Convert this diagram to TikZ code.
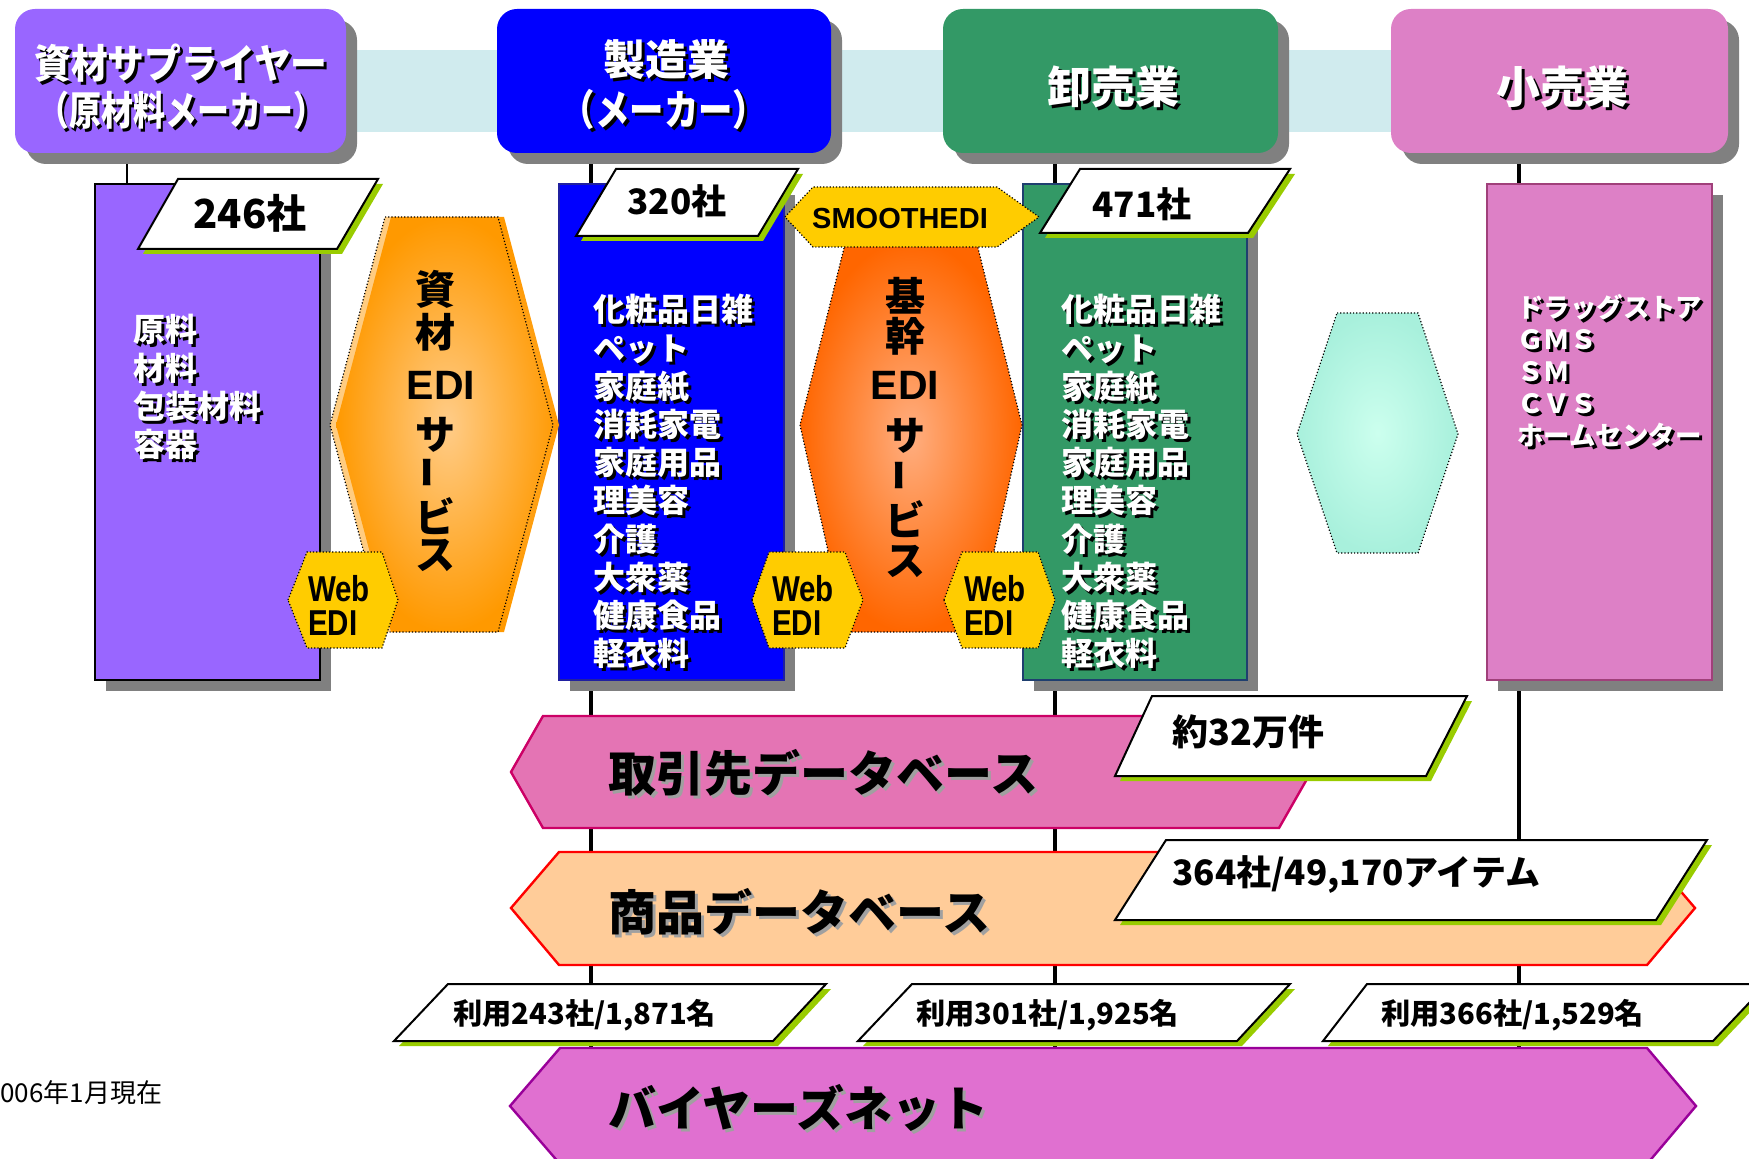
\documentclass[tikz,border=0pt]{standalone}
\usepackage{fontspec}
\setmainfont{Noto Sans CJK JP}
\newfontfamily\lat{Liberation Sans}
\usepackage{graphicx}
\usetikzlibrary{calc,fit,shadows}
\pgfdeclarelayer{bg}
\pgfsetlayers{bg,main}

\definecolor{cPurple}{HTML}{9966FF}
\definecolor{cBlue}{HTML}{0000FF}
\definecolor{cGreen}{HTML}{339966}
\definecolor{cPink}{HTML}{DD80C6}
\definecolor{cShadow}{HTML}{808080}
\definecolor{cBand}{HTML}{D0EBEE}
\definecolor{cTagShadow}{HTML}{99CC00}
\definecolor{cYellow}{HTML}{FFCC00}
\definecolor{cOrangeOut}{HTML}{FF9900}
\definecolor{cOrangeIn}{HTML}{FFCC88}
\definecolor{cOrangeLt}{HTML}{FFCC80}
\definecolor{cRedOut}{HTML}{FF6600}
\definecolor{cRedIn}{HTML}{FFAE80}
\definecolor{cCyanOut}{HTML}{A8F0DC}
\definecolor{cCyanIn}{HTML}{CCFFEE}
\definecolor{cDBa}{HTML}{E474B4}
\definecolor{cDBaLine}{HTML}{CC0066}
\definecolor{cDBb}{HTML}{FFCC99}
\definecolor{cDBbLine}{HTML}{FF0000}
\definecolor{cDBc}{HTML}{E070D0}
\definecolor{cDBcLine}{HTML}{990099}
\definecolor{cBlueLine}{HTML}{2020A0}
\definecolor{cGreenLine}{HTML}{1F3F6F}
\definecolor{cPinkLine}{HTML}{A0407A}
\definecolor{cTxtShadow}{HTML}{A0A0A0}

\newcommand\fsz[2]{\fontsize{#1}{#2}\selectfont}
\newcommand\hsc[2]{\scalebox{#1}[1]{#2}}
% name, position, options, text colour, shadow colour, text
\newcommand\shtxt[6]{%
  \node[#3,text=#5] (#1-s) at ($(#2)+(3,3)$) {#6};%
  \node[#3,text=#4] (#1) at (#2) {#6};}
% TLx, TRx, BRx, BLx, top y, bottom y
\newcommand\tagshape[6]{%
  \fill[tagshadow] (#1+5,#5+5) -- (#2+5,#5+5) -- (#3+5,#6+5) -- (#4+5,#6+5) -- cycle;%
  \draw[tagbox] (#1,#5) -- (#2,#5) -- (#3,#6) -- (#4,#6) -- cycle;}

\tikzset{
  hdrbox/.style={inner sep=0pt, rounded corners=10pt, fill=#1,
    drop shadow={shadow xshift=5.5pt, shadow yshift=-5.5pt, fill=cShadow, opacity=1}},
  colbox/.style 2 args={inner sep=0pt, fill=#1, draw=#2, line width=0.6pt,
    drop shadow={shadow xshift=5.5pt, shadow yshift=-5.5pt, fill=cShadow, opacity=1}},
  hdrtxt/.style={inner sep=0pt, font=\fsz{20}{24}\bfseries},
  coltxt/.style={inner sep=0pt, anchor=west, font=\fsz{16}{20}\bfseries, text height=14pt, text depth=2pt},
  pinktxt/.style={inner sep=0pt, anchor=west, font=\fsz{13.2}{16}\bfseries, text height=11.6pt, text depth=1.6pt},
  tagshadow/.style={fill=cTagShadow},
  tagbox/.style={fill=white, draw=black, line width=1pt},
  tagtxt/.style={inner sep=0pt, font=\fsz{17.5}{20}\bfseries},
  tagtxtw/.style={inner sep=0pt, anchor=west, font=\fsz{17.5}{20}\bfseries},
  hexdot/.style={draw=black, densely dotted, line width=0.6pt},
  vtxt/.style={inner sep=0pt, font=\fsz{20}{22}\bfseries},
  vlat/.style={inner sep=0pt, font=\lat\bfseries\fsz{20.5}{22}},
  dbtxt/.style={inner sep=0pt, anchor=west, font=\fsz{24}{26}\bfseries},
  webtxt/.style={inner sep=0pt, align=left, font=\lat\bfseries\fsz{18}{17}},
  vline/.style={line width=2pt, black},
}

\begin{document}
\begin{tikzpicture}[x=0.5pt,y=-0.5pt]
\useasboundingbox (0,0) rectangle (1749,1159);

% ---------- header boxes
\node[hdrbox=cPurple, fit={(15,9)(346,153)}] (hA) {};
\node[hdrbox=cBlue,   fit={(497,9)(831,153)}] (hB) {};
\node[hdrbox=cGreen,  fit={(943,9)(1278,153)}] (hC) {};
\node[hdrbox=cPink,   fit={(1391,9)(1728,153)}] (hD) {};

\shtxt{hAt1}{181,63}{hdrtxt}{white}{black}{\hsc{0.92}{資材サプライヤー}}
\shtxt{hAt2}{181,110}{hdrtxt}{white}{black}{\hsc{0.8}{（原材料メーカー）}}
\shtxt{hBt1}{666,60}{hdrtxt,font=\fsz{21}{24}\bfseries}{white}{black}{製造業}
\shtxt{hBt2}{664,110}{hdrtxt,font=\fsz{21}{24}\bfseries}{white}{black}{\hsc{0.82}{（メーカー）}}
\shtxt{hCt}{1113,87}{hdrtxt,font=\fsz{22}{24}\bfseries}{white}{black}{卸売業}
\shtxt{hDt}{1562,87}{hdrtxt,font=\fsz{22}{24}\bfseries}{white}{black}{小売業}

% ---------- column boxes
\node[colbox={cPurple}{black},     fit={(95,184)(320,680)}] (cA) {};
\node[colbox={cBlue}{cBlueLine},   fit={(559,184)(784,680)}] (cB) {};
\node[colbox={cGreen}{cGreenLine}, fit={(1023,184)(1247,680)}] (cC) {};
\node[colbox={cPink}{cPinkLine},   fit={(1487,184)(1712,680)}] (cD) {};

\foreach \t [count=\i] in {原料,材料,包装材料,容器}{
  \pgfmathsetmacro\yy{330+38.3*(\i-1)}
  \shtxt{cAt\i}{133,\yy}{coltxt}{white}{black}{\t}
}
\foreach \t [count=\i] in {化粧品日雑,ペット,家庭紙,消耗家電,家庭用品,理美容,介護,大衆薬,健康食品,軽衣料}{
  \pgfmathsetmacro\yy{310+38.2*(\i-1)}
  \shtxt{cBt\i}{593,\yy}{coltxt}{white}{black}{\t}
  \shtxt{cCt\i}{1061,\yy}{coltxt}{white}{black}{\t}
}
\foreach \t [count=\i] in {ドラッグストア,ＧＭＳ,ＳＭ,ＣＶＳ,ホームセンター}{
  \pgfmathsetmacro\yy{308+31.8*(\i-1)}
  \shtxt{cDt\i}{1517,\yy}{pinktxt}{white}{black}{\t}
}

% ---------- company tags
\tagshape{178}{378}{337}{138}{179}{249}
\node[tagtxt,font=\fsz{20}{22}\bfseries] (tAt) at (250,213) {246社};
\tagshape{616}{798}{758}{576}{169}{236}
\node[tagtxt] (tBt) at (677,201) {320社};
\tagshape{1080}{1290}{1248}{1040}{169}{233}
\node[tagtxt] (tCt) at (1142,204) {471社};

% ---------- 資材EDIサービス hexagon
\fill[cOrangeLt] (385,217) -- (498,217) -- (553,425) -- (498,632) -- (385,632) -- (330,425) -- cycle;
\shade[inner color=cOrangeIn, outer color=cOrangeOut] (391,217) -- (504,217) -- (559,425) -- (504,632) -- (391,632) -- (336,425) -- cycle;
\draw[hexdot] (385,217) -- (498,217) -- (553,425) -- (498,632) -- (385,632) -- (330,425) -- cycle;
\foreach \t/\y in {資/289,材/332,サ/435,ビ/516,ス/555}{
  \node[vtxt] (vA\y) at (435,\y) {\t};
}
\node[vlat] (vAedi) at (441,385) {EDI};
\node[vtxt] (vAbar) at (433,473) {\rotatebox[origin=c]{90}{\hsc{0.8}{ー}}};

% ---------- 基幹EDIサービス hexagon
\shade[inner color=cRedIn, outer color=cRedOut] (846,240) -- (976,240) -- (1022,425) -- (976,632) -- (846,632) -- (800,425) -- cycle;
\draw[hexdot] (846,240) -- (976,240) -- (1022,425) -- (976,632) -- (846,632) -- (800,425) -- cycle;
\foreach \t/\y in {基/296,幹/336,サ/436,ビ/519,ス/561}{
  \node[vtxt] (vB\y) at (905,\y) {\t};
}
\node[vlat] (vBedi) at (905,385) {EDI};
\node[vtxt] (vBbar) at (905,476) {\rotatebox[origin=c]{90}{\hsc{0.8}{ー}}};

% ---------- empty cyan hexagon
\shade[inner color=cCyanIn, outer color=cCyanOut] (1337,313) -- (1418,313) -- (1458,434) -- (1418,553) -- (1337,553) -- (1297,434) -- cycle;
\draw[hexdot] (1337,313) -- (1418,313) -- (1458,434) -- (1418,553) -- (1337,553) -- (1297,434) -- cycle;

% ---------- SMOOTHEDI
\filldraw[fill=cYellow, hexdot] (785,217) -- (813,187) -- (997,187) -- (1039,217) -- (997,247) -- (813,247) -- cycle;
\node[inner sep=0pt, font=\lat\bfseries\fsz{14.5}{15}] (smooth) at (900,219) {SMOOTHEDI};

% ---------- Web EDI
\filldraw[fill=cYellow, hexdot] (288,600) -- (307,552) -- (382,552) -- (398,600) -- (382,648) -- (307,648) -- cycle;
\node[webtxt] (w1) at (339,605) {\hsc{0.82}{Web}\\\hsc{0.82}{EDI}};
\filldraw[fill=cYellow, hexdot] (752,600) -- (769,552) -- (845,552) -- (863,600) -- (845,648) -- (769,648) -- cycle;
\node[webtxt] (w2) at (803,605) {\hsc{0.82}{Web}\\\hsc{0.82}{EDI}};
\filldraw[fill=cYellow, hexdot] (944,600) -- (962,552) -- (1038,552) -- (1055,600) -- (1038,648) -- (962,648) -- cycle;
\node[webtxt] (w3) at (995,605) {\hsc{0.82}{Web}\\\hsc{0.82}{EDI}};

% ---------- 取引先データベース
\filldraw[fill=cDBa, draw=cDBaLine, line width=1.2pt] (511,772) -- (543,716) -- (1279,716) -- (1311,772) -- (1279,828) -- (543,828) -- cycle;
\shtxt{dbAt}{608,773}{dbtxt}{black}{cTxtShadow}{取引先データベース}
\tagshape{1152}{1467}{1426}{1115}{696}{776}
\node[tagtxtw,font=\fsz{18}{20}\bfseries] (tDt) at (1172,732) {約32万件};

% ---------- 商品データベース
\filldraw[fill=cDBb, draw=cDBbLine, line width=1.2pt] (511,908) -- (559,852) -- (1647,852) -- (1695,908) -- (1647,965) -- (559,965) -- cycle;
\shtxt{dbBt}{608,912}{dbtxt}{black}{cTxtShadow}{商品データベース}
\tagshape{1166}{1707}{1656}{1115}{840}{920}
\node[tagtxtw] (tEt) at (1172,875) {364社/49,170アイテム};

% ---------- user tags
\tagshape{448}{826}{773}{394}{984}{1041}
\node[tagtxtw,font=\fsz{14.6}{16}\bfseries] (tFt) at (453,1015) {利用243社/1,871名};
\tagshape{912}{1290}{1237}{858}{984}{1041}
\node[tagtxtw,font=\fsz{14.6}{16}\bfseries] (tGt) at (916,1015) {利用301社/1,925名};
\tagshape{1367}{1767}{1713}{1323}{984}{1041}
\node[tagtxtw,font=\fsz{14.6}{16}\bfseries] (tHt) at (1381,1015) {利用366社/1,529名};

% ---------- バイヤーズネット
\filldraw[fill=cDBc, draw=cDBcLine, line width=1.2pt] (510,1106) -- (560,1048) -- (1647,1048) -- (1696,1106) -- (1647,1164) -- (560,1164) -- cycle;
\node[inner sep=0pt, fit={(510,1048)(1696,1164)}] (dbC) {};
\shtxt{dbCt}{608,1108}{dbtxt}{black}{cTxtShadow}{バイヤーズネット}

% ---------- date
\node[inner sep=0pt, anchor=west, font=\fsz{13}{14}] (date) at (0,1093) {006年1月現在};

% ---------- background band and connector lines
\begin{pgfonlayer}{bg}
  \fill[cBand] (hA.east |- 0,50) rectangle (hD.west |- 0,132);
  \coordinate (xA) at (127,0);
  \coordinate (xB) at (591,0);
  \coordinate (xC) at (1055,0);
  \coordinate (xD) at (1519,0);
  \draw[line width=0.7pt] (hA.south -| xA) -- (cA.north -| xA);
  \draw[vline] (hB.south -| xB) -- (dbC.north -| xB);
  \draw[vline] (hC.south -| xC) -- (dbC.north -| xC);
  \draw[vline] (hD.south -| xD) -- (dbC.north -| xD);
\end{pgfonlayer}
\end{tikzpicture}
\end{document}
